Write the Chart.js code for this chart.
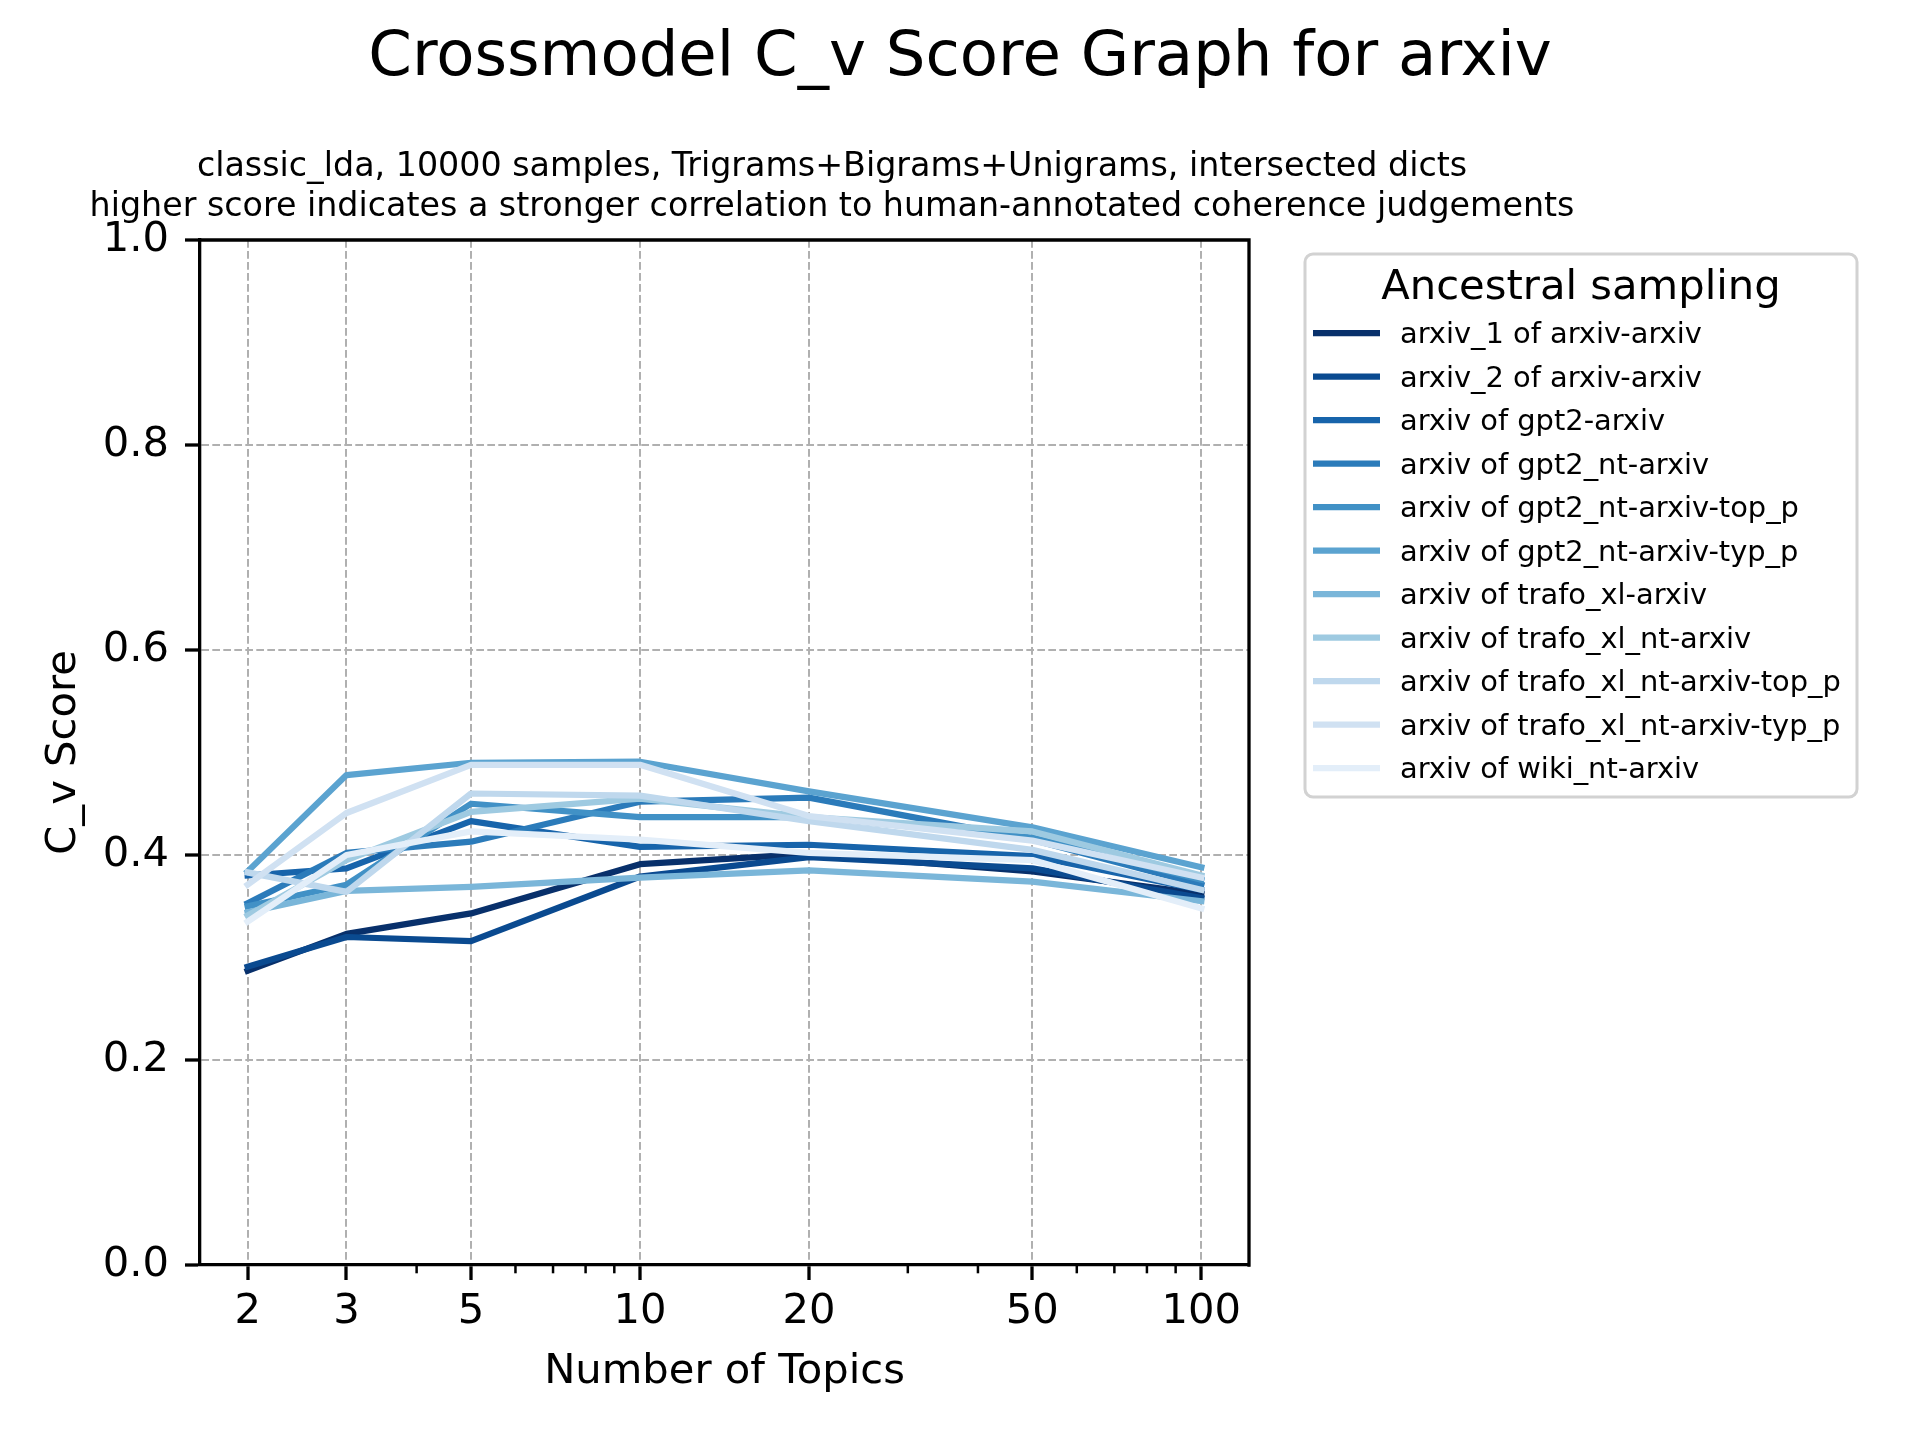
<!DOCTYPE html>
<html><head><meta charset="utf-8">
<script src="https://cdn.jsdelivr.net/npm/chart.js@4.4.0/dist/chart.umd.min.js"></script>
<style>html,body{margin:0;padding:0;background:#fff}canvas{display:block}</style>
</head><body>
<canvas id="c" width="1920" height="1440"></canvas>
<script>
// ---- data ----
const topics = [2, 3, 5, 10, 20, 50, 100];
const seriesNames = [
  'arxiv_1 of arxiv-arxiv',
  'arxiv_2 of arxiv-arxiv',
  'arxiv of gpt2-arxiv',
  'arxiv of gpt2_nt-arxiv',
  'arxiv of gpt2_nt-arxiv-top_p',
  'arxiv of gpt2_nt-arxiv-typ_p',
  'arxiv of trafo_xl-arxiv',
  'arxiv of trafo_xl_nt-arxiv',
  'arxiv of trafo_xl_nt-arxiv-top_p',
  'arxiv of trafo_xl_nt-arxiv-typ_p',
  'arxiv of wiki_nt-arxiv'
];
const arxiv1 =          [0.287, 0.323, 0.343, 0.391, 0.401, 0.384, 0.362];
const arxiv2 =          [0.291, 0.320, 0.316, 0.379, 0.398, 0.387, 0.358];
const gpt2 =            [0.380, 0.387, 0.433, 0.408, 0.410, 0.399, 0.366];
const gpt2Nt =          [0.353, 0.402, 0.413, 0.452, 0.456, 0.415, 0.371];
const gpt2NtTopP =      [0.350, 0.371, 0.450, 0.437, 0.437, 0.417, 0.376];
const gpt2NtTypP =      [0.384, 0.478, 0.490, 0.491, 0.462, 0.427, 0.388];
const trafoXl =         [0.344, 0.365, 0.369, 0.378, 0.385, 0.374, 0.355];
const trafoXlNt =       [0.341, 0.395, 0.442, 0.455, 0.437, 0.423, 0.380];
const trafoXlNtTopP =   [0.383, 0.364, 0.460, 0.458, 0.433, 0.405, 0.366];
const trafoXlNtTypP =   [0.371, 0.441, 0.488, 0.488, 0.438, 0.414, 0.378];
const wikiNt =          [0.335, 0.400, 0.423, 0.415, 0.402, 0.395, 0.348];
const seriesValues = [arxiv1, arxiv2, gpt2, gpt2Nt, gpt2NtTopP, gpt2NtTypP,
  trafoXl, trafoXlNt, trafoXlNtTopP, trafoXlNtTypP, wikiNt];
const seriesColors = ['#08306b', '#0a4a90', '#1764ab', '#2b7bba', '#4191c6', '#5ba3d0',
  '#7ab6d9', '#9ecae1', '#bfd8ed', '#d0e1f2', '#e3eef9'];
const xTickValues = [2, 3, 5, 10, 20, 50, 100];
const xMinorTickValues = [4, 6, 7, 8, 9, 30, 40, 60, 70, 80, 90];
const xLimits = [1.645, 121.6];
const yLimits = [0, 1];
const yTickStep = 0.2;
const titleText = 'Crossmodel C_v Score Graph for arxiv';
const subtitleLines = [
  'classic_lda, 10000 samples, Trigrams+Bigrams+Unigrams, intersected dicts',
  'higher score indicates a stronger correlation to human-annotated coherence judgements'
];
const xAxisTitle = 'Number of Topics';
const yAxisTitle = 'C_v Score';
const legendTitle = 'Ancestral sampling';

// ---- chart ----
const FONT = '"DejaVu Sans", "Liberation Sans", sans-serif';
Chart.defaults.font.family = FONT;
Chart.defaults.color = '#000';

const datasets = seriesNames.map((name, i) => ({
  label: name,
  data: topics.map((t, j) => ({x: t, y: seriesValues[i][j]})),
  borderColor: seriesColors[i],
  backgroundColor: seriesColors[i],
  borderWidth: 6.25,
  borderJoinStyle: 'round',
  borderCapStyle: 'square',
  pointRadius: 0,
  pointHoverRadius: 0,
  tension: 0,
  fill: false,
  order: -i
}));

const decor = {
  id: 'decor',
  afterDraw(chart) {
    const ctx = chart.ctx;
    const a = chart.chartArea;
    const xs = chart.scales.x;
    ctx.save();
    // top & right spines
    ctx.strokeStyle = '#000';
    ctx.lineWidth = 3.3;
    ctx.lineCap = 'square';
    ctx.beginPath();
    ctx.moveTo(a.left, a.top); ctx.lineTo(a.right, a.top); ctx.lineTo(a.right, a.bottom);
    ctx.stroke();
    // minor ticks
    ctx.lineWidth = 2.5;
    ctx.lineCap = 'butt';
    xMinorTickValues.forEach(v => {
      const px = xs.getPixelForValue(v);
      ctx.beginPath(); ctx.moveTo(px, a.bottom); ctx.lineTo(px, a.bottom + 8.3); ctx.stroke();
    });
    // titles
    ctx.fillStyle = '#000';
    ctx.textAlign = 'center';
    ctx.textBaseline = 'alphabetic';
    ctx.font = '62.5px ' + FONT;
    ctx.fillText(titleText, 960, 75);
    ctx.font = '33.3px ' + FONT;
    ctx.fillText(subtitleLines[0], 832, 176);
    ctx.fillText(subtitleLines[1], 832, 216);
    // legend
    const lx = 1305, ly = 254, lw = 552, lh = 543, r = 8;
    ctx.beginPath();
    ctx.moveTo(lx + r, ly);
    ctx.arcTo(lx + lw, ly, lx + lw, ly + lh, r);
    ctx.arcTo(lx + lw, ly + lh, lx, ly + lh, r);
    ctx.arcTo(lx, ly + lh, lx, ly, r);
    ctx.arcTo(lx, ly, lx + lw, ly, r);
    ctx.closePath();
    ctx.fillStyle = 'rgba(255,255,255,0.8)';
    ctx.fill();
    ctx.strokeStyle = '#d2d2d2';
    ctx.lineWidth = 3;
    ctx.stroke();
    ctx.fillStyle = '#000';
    ctx.font = '41.7px ' + FONT;
    ctx.fillText(legendTitle, lx + lw / 2, 299);
    ctx.textAlign = 'left';
    ctx.font = '28.9px ' + FONT;
    chart.data.datasets.forEach((ds, i) => {
      const y = 333 + i * 43.5;
      ctx.strokeStyle = ds.borderColor;
      ctx.lineWidth = 6.25;
      ctx.lineCap = 'butt';
      ctx.beginPath(); ctx.moveTo(1313, y); ctx.lineTo(1380, y); ctx.stroke();
      ctx.fillStyle = '#000';
      ctx.fillText(ds.label, 1400, y + 10);
    });
    ctx.restore();
  }
};

new Chart(document.getElementById('c'), {
  type: 'line',
  data: {datasets},
  options: {
    responsive: false,
    devicePixelRatio: 1,
    animation: false,
    layout: {padding: {left: 0, top: 240, right: 671, bottom: 0}},
    plugins: {legend: {display: false}, tooltip: {enabled: false}, title: {display: false}},
    scales: {
      x: {
        type: 'logarithmic',
        position: 'bottom',
        min: xLimits[0],
        max: xLimits[1],
        afterBuildTicks: (s) => { s.ticks = xTickValues.map(v => ({value: v, major: false})); },
        afterFit: (s) => { s.height = 175; },
        ticks: {
          callback: (v) => String(v),
          font: {size: 41.7},
          color: '#000',
          padding: 7,
          maxRotation: 0,
          autoSkip: false
        },
        grid: {
          color: '#b0b0b0',
          lineWidth: 2,
          drawTicks: true,
          tickLength: 15,
          tickWidth: 3.3,
          tickColor: '#000'
        },
        border: {display: true, color: '#000', width: 3.3, dash: [7.7, 3.3]},
        title: {display: true, text: xAxisTitle, font: {size: 41.7}, color: '#000', padding: {top: 0, bottom: 43}}
      },
      y: {
        type: 'linear',
        position: 'left',
        min: yLimits[0],
        max: yLimits[1],
        afterFit: (s) => { s.width = 200; },
        ticks: {
          stepSize: yTickStep,
          callback: (v) => Number(v).toFixed(1),
          font: {size: 41.7},
          color: '#000',
          padding: 16
        },
        grid: {
          color: '#b0b0b0',
          lineWidth: 2,
          drawTicks: true,
          tickLength: 15,
          tickWidth: 3.3,
          tickColor: '#000'
        },
        border: {display: true, color: '#000', width: 3.3, dash: [7.7, 3.3]},
        title: {display: true, text: yAxisTitle, font: {size: 41.7}, color: '#000', padding: {top: 39, bottom: 0}}
      }
    }
  },
  plugins: [decor]
});
</script>
</body></html>
